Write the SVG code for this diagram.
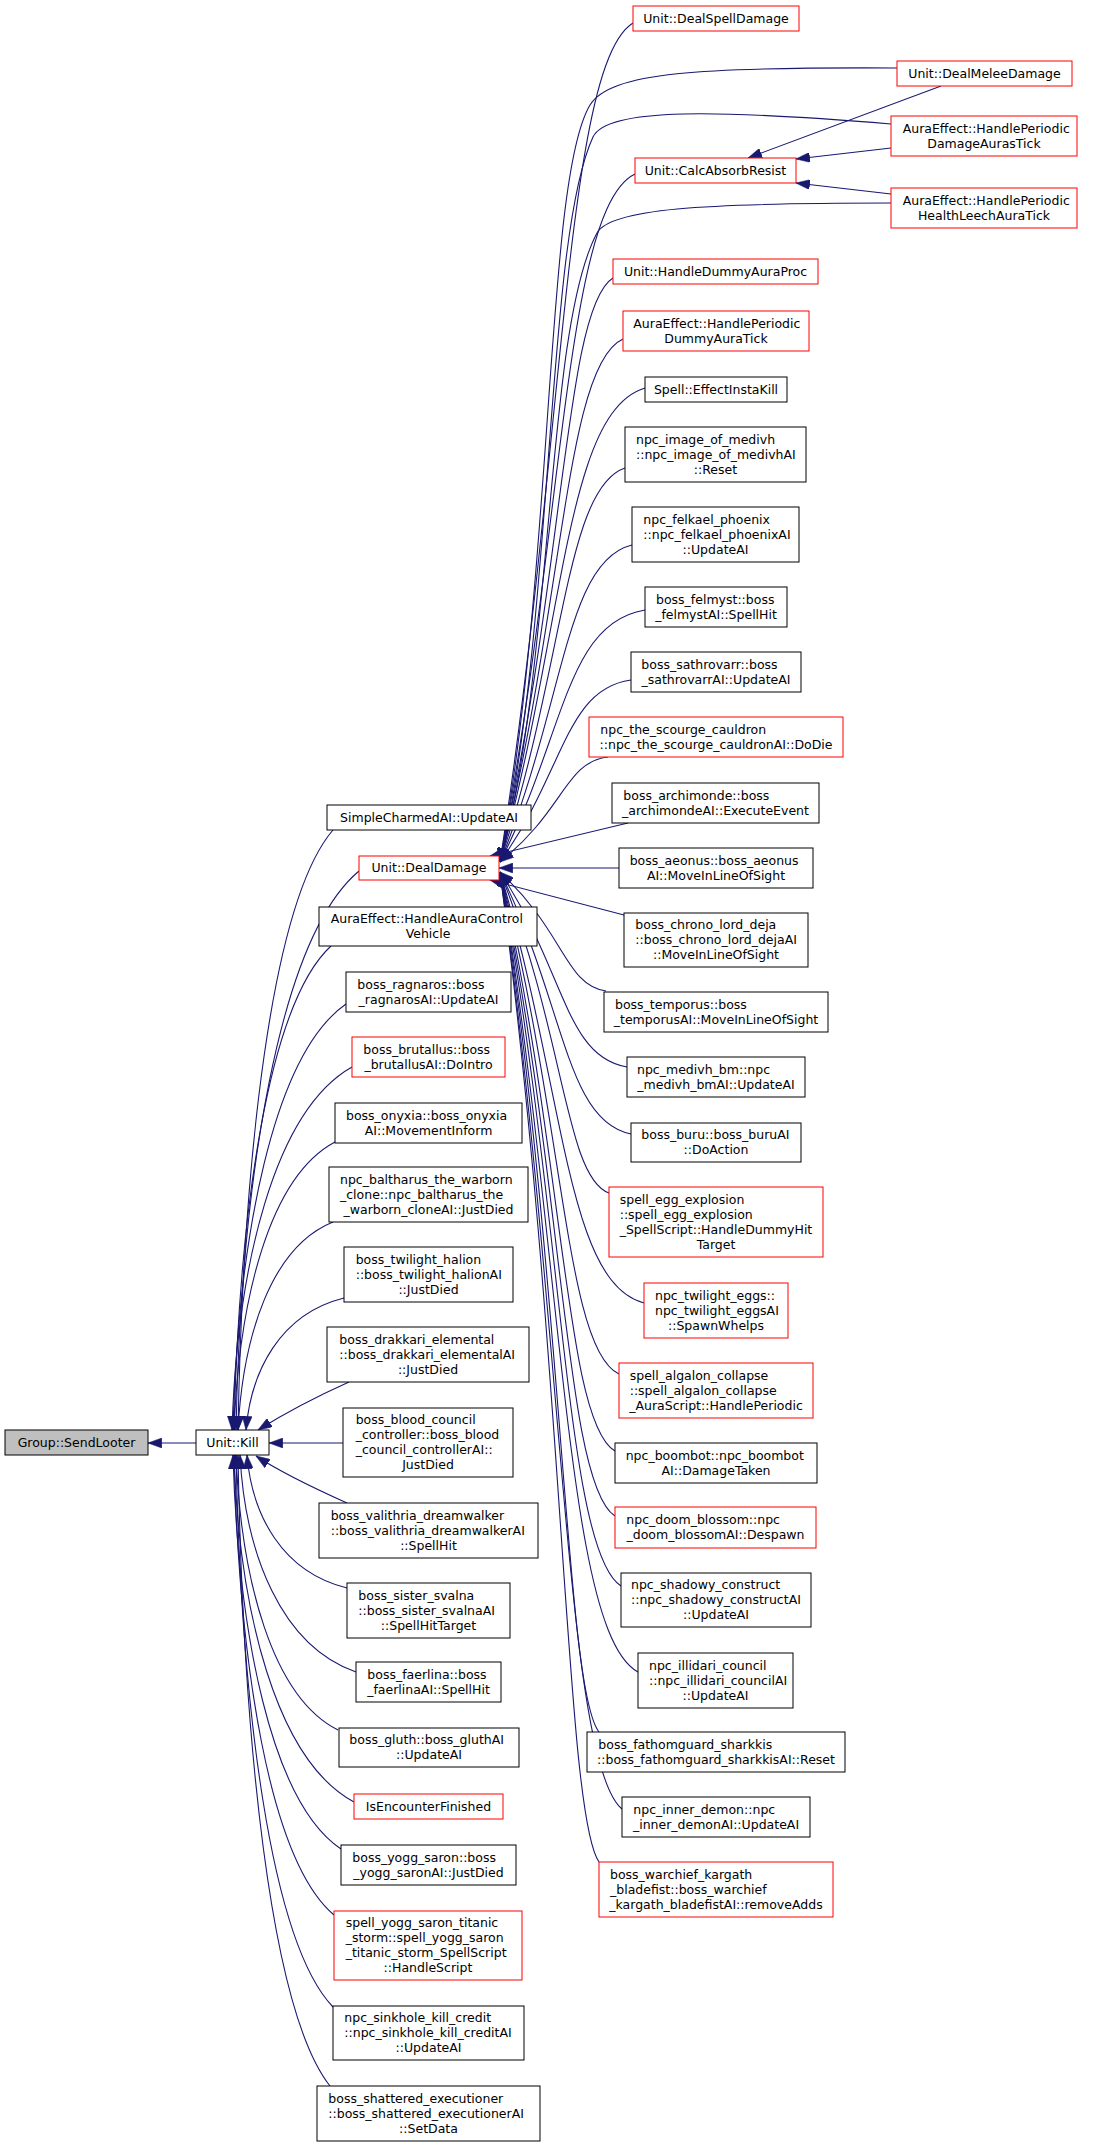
<svg xmlns="http://www.w3.org/2000/svg" width="1096" height="2147" viewBox="0 0 1096 2147">
<style>
text{font-family:"DejaVu Sans","Liberation Sans",sans-serif;font-size:12.5px;fill:#000}
.m{text-anchor:middle}
.n rect{fill:#fff;stroke:#000;stroke-width:1}
.r rect{fill:#fff;stroke:#f00;stroke-width:1}
.g rect{fill:#bfbfbf;stroke:#000;stroke-width:1}
#edges path{fill:none;stroke:#191970;stroke-width:1.1;marker-start:url(#a)}
</style>
<defs>
<marker id="a" markerUnits="userSpaceOnUse" markerWidth="14" markerHeight="10" viewBox="0 0 13 9.4" refX="0" refY="4.7" orient="auto"><path d="M0,4.7 L13,0 L13,9.4 z" fill="#191970" stroke="#191970" stroke-width="0.5"/></marker>
</defs>
<rect width="1096" height="2147" fill="#fff"/>
<g id="edges">
<path d="M148,1443 L196,1443"/>
<path d="M238,1430 C243,1160 271,902 333,830"/>
<path d="M236,1430 C241,1178 279,938 359,871"/>
<path d="M234,1430 C239,1212 268,1004 331,946"/>
<path d="M233,1430 C238,1238 273,1055 346,1004"/>
<path d="M232,1430 C237,1267 274,1111 352,1067"/>
<path d="M234,1430 C239,1300 269,1177 335,1142"/>
<path d="M238,1430 C243,1336 271,1247 333,1222"/>
<path d="M246,1430 C251,1371 280,1314 344,1298"/>
<path d="M258,1430 C290,1410 320,1395 349,1382"/>
<path d="M269,1443 L343,1443"/>
<path d="M256,1456 C285,1475 318,1490 347,1503"/>
<path d="M247,1455 C252,1515 282,1572 347,1588"/>
<path d="M240,1455 C245,1553 281,1646 356,1672"/>
<path d="M236,1455 C241,1579 272,1697 338,1730"/>
<path d="M234,1455 C239,1611 276,1760 354,1802"/>
<path d="M233,1455 C238,1632 271,1802 341,1849"/>
<path d="M234,1455 C239,1662 269,1860 334,1915"/>
<path d="M236,1455 C241,1703 270,1941 333,2007"/>
<path d="M238,1455 C243,1739 270,2010 330,2086"/>
<path d="M500,862 C565,442 565,65 633,23"/>
<path d="M500,862 C555,560 545,180 590,105 C610,72 700,67 897,68"/>
<path d="M500,862 C555,620 545,240 593,137 C607,107 720,110 891,124"/>
<path d="M500,862 C565,518 565,208 635,174"/>
<path d="M500,862 C555,660 545,330 597,233 C610,209 700,203 891,203"/>
<path d="M500,862 C565,570 565,307 613,278"/>
<path d="M500,862 C565,600 565,365 623,339"/>
<path d="M500,862 C565,625 565,412 645,388"/>
<path d="M500,862 C565,665 565,488 625,468"/>
<path d="M500,862 C565,703 565,561 632,545"/>
<path d="M500,862 C565,736 565,623 645,610"/>
<path d="M500,862 C565,771 565,689 631,680"/>
<path d="M500,862 C565,810 565,762 608,757"/>
<path d="M490,856 L628,823"/>
<path d="M499,868 L619,868"/>
<path d="M490,880 L624,915"/>
<path d="M500,872 C565,932 565,985 606,991"/>
<path d="M500,872 C565,970 565,1057 627,1067"/>
<path d="M500,872 C565,1003 565,1121 631,1134"/>
<path d="M500,872 C565,1033 565,1177 609,1193"/>
<path d="M500,872 C565,1088 565,1282 644,1303"/>
<path d="M500,872 C565,1123 565,1349 619,1374"/>
<path d="M500,872 C565,1162 565,1422 615,1451"/>
<path d="M500,872 C565,1194 565,1484 615,1516"/>
<path d="M500,872 C565,1229 565,1550 621,1586"/>
<path d="M500,872 C565,1272 565,1632 638,1672"/>
<path d="M500,872 C565,1302 565,1689 599,1732"/>
<path d="M500,872 C565,1341 565,1762 622,1809"/>
<path d="M500,872 C565,1367 565,1813 599,1862"/>
<path d="M748,158 L941,86"/>
<path d="M796,159 L891,148"/>
<path d="M796,183 L891,194"/>
</g>
<g id="n_sendlooter" class="g"><rect x="5" y="1430" width="143" height="25"/><text class="m" x="76.5" y="1446.5">Group::SendLooter</text></g>
<g id="n_kill" class="n"><rect x="196" y="1430" width="73" height="25"/><text class="m" x="232.5" y="1446.5">Unit::Kill</text></g>

<g id="n_simplecharmed" class="n"><rect x="327" y="805" width="204" height="25"/><text class="m" x="429" y="821.5">SimpleCharmedAI::UpdateAI</text></g>
<g id="n_dealdamage" class="r"><rect x="359" y="856" width="140" height="24"/><text class="m" x="429" y="872">Unit::DealDamage</text></g>
<g id="n_auracontrol" class="n"><rect x="319" y="907" width="218" height="39"/><text x="330.7" y="923">AuraEffect::HandleAuraControl</text><text class="m" x="428" y="938">Vehicle</text></g>
<g id="n_ragnaros" class="n"><rect x="346" y="972" width="165" height="40"/><text x="357.3" y="988.5">boss_ragnaros::boss</text><text class="m" x="428.5" y="1003.5">_ragnarosAI::UpdateAI</text></g>
<g id="n_brutallus" class="r"><rect x="352" y="1037" width="153" height="40"/><text x="363.3" y="1053.5">boss_brutallus::boss</text><text class="m" x="428.5" y="1068.5">_brutallusAI::DoIntro</text></g>
<g id="n_onyxia" class="n"><rect x="335" y="1103" width="187" height="40"/><text x="346" y="1119.5">boss_onyxia::boss_onyxia</text><text class="m" x="428.5" y="1134.5">AI::MovementInform</text></g>
<g id="n_baltharus" class="n"><rect x="329" y="1167" width="199" height="55"/><text x="340" y="1183.5">npc_baltharus_the_warborn</text><text x="340" y="1198.5">_clone::npc_baltharus_the</text><text class="m" x="428.5" y="1213.5">_warborn_cloneAI::JustDied</text></g>
<g id="n_halion" class="n"><rect x="344" y="1247" width="169" height="55"/><text x="355.7" y="1263.5">boss_twilight_halion</text><text x="355.7" y="1278.5">::boss_twilight_halionAI</text><text class="m" x="428.5" y="1293.5">::JustDied</text></g>
<g id="n_drakkari" class="n"><rect x="327" y="1327" width="202" height="55"/><text x="339.3" y="1343.5">boss_drakkari_elemental</text><text x="339.3" y="1358.5">::boss_drakkari_elementalAI</text><text class="m" x="428" y="1373.5">::JustDied</text></g>
<g id="n_bloodcouncil" class="n"><rect x="343" y="1408" width="170" height="69"/><text x="355.7" y="1424">boss_blood_council</text><text x="355.7" y="1439">_controller::boss_blood</text><text x="355.7" y="1454">_council_controllerAI::</text><text class="m" x="428" y="1469">JustDied</text></g>
<g id="n_valithria" class="n"><rect x="319" y="1503" width="219" height="55"/><text x="330.7" y="1519.5">boss_valithria_dreamwalker</text><text x="330.7" y="1534.5">::boss_valithria_dreamwalkerAI</text><text class="m" x="428.5" y="1549.5">::SpellHit</text></g>
<g id="n_svalna" class="n"><rect x="347" y="1583" width="163" height="55"/><text x="358.3" y="1599.5">boss_sister_svalna</text><text x="358.3" y="1614.5">::boss_sister_svalnaAI</text><text class="m" x="428.5" y="1629.5">::SpellHitTarget</text></g>
<g id="n_faerlina" class="n"><rect x="356" y="1662" width="145" height="40"/><text x="367.3" y="1678.5">boss_faerlina::boss</text><text class="m" x="428.5" y="1693.5">_faerlinaAI::SpellHit</text></g>
<g id="n_gluth" class="n"><rect x="339" y="1728" width="180" height="39"/><text x="349.3" y="1744">boss_gluth::boss_gluthAI</text><text class="m" x="429" y="1759">::UpdateAI</text></g>
<g id="n_isencounter" class="r"><rect x="354" y="1794" width="149" height="25"/><text class="m" x="428.5" y="1810.5">IsEncounterFinished</text></g>
<g id="n_yogg" class="n"><rect x="341" y="1845" width="175" height="40"/><text x="352.3" y="1861.5">boss_yogg_saron::boss</text><text class="m" x="428.5" y="1876.5">_yogg_saronAI::JustDied</text></g>
<g id="n_titanicstorm" class="r"><rect x="334" y="1911" width="188" height="69"/><text x="345.7" y="1927">spell_yogg_saron_titanic</text><text x="345.7" y="1942">_storm::spell_yogg_saron</text><text x="345.7" y="1957">_titanic_storm_SpellScript</text><text class="m" x="428" y="1972">::HandleScript</text></g>
<g id="n_sinkhole" class="n"><rect x="333" y="2006" width="191" height="54"/><text x="344.3" y="2022">npc_sinkhole_kill_credit</text><text x="344.3" y="2037">::npc_sinkhole_kill_creditAI</text><text class="m" x="428.5" y="2052">::UpdateAI</text></g>
<g id="n_shattered" class="n"><rect x="317" y="2086" width="223" height="55"/><text x="328.3" y="2102.5">boss_shattered_executioner</text><text x="328.3" y="2117.5">::boss_shattered_executionerAI</text><text class="m" x="428.5" y="2132.5">::SetData</text></g>

<g id="n_dealspell" class="r"><rect x="633" y="6" width="166" height="25"/><text class="m" x="716" y="22.5">Unit::DealSpellDamage</text></g>
<g id="n_dealmelee" class="r"><rect x="897" y="61" width="175" height="25"/><text class="m" x="984.5" y="77.5">Unit::DealMeleeDamage</text></g>
<g id="n_damageauras" class="r"><rect x="891" y="116" width="186" height="40"/><text x="902.7" y="132.5">AuraEffect::HandlePeriodic</text><text class="m" x="984" y="147.5">DamageAurasTick</text></g>
<g id="n_calcabsorb" class="r"><rect x="635" y="158" width="161" height="25"/><text class="m" x="715.5" y="174.5">Unit::CalcAbsorbResist</text></g>
<g id="n_healthleech" class="r"><rect x="891" y="188" width="186" height="40"/><text x="902.7" y="204.5">AuraEffect::HandlePeriodic</text><text class="m" x="984" y="219.5">HealthLeechAuraTick</text></g>
<g id="n_dummyproc" class="r"><rect x="613" y="259" width="205" height="25"/><text class="m" x="715.5" y="275.5">Unit::HandleDummyAuraProc</text></g>
<g id="n_dummytick" class="r"><rect x="623" y="311" width="186" height="40"/><text x="633.3" y="327.5">AuraEffect::HandlePeriodic</text><text class="m" x="716" y="342.5">DummyAuraTick</text></g>
<g id="n_instakill" class="n"><rect x="645" y="377" width="142" height="25"/><text class="m" x="716" y="393.5">Spell::EffectInstaKill</text></g>
<g id="n_imagemedivh" class="n"><rect x="625" y="427" width="181" height="55"/><text x="636" y="443.5">npc_image_of_medivh</text><text x="636" y="458.5">::npc_image_of_medivhAI</text><text class="m" x="715.5" y="473.5">::Reset</text></g>
<g id="n_felkael" class="n"><rect x="632" y="507" width="167" height="55"/><text x="643.3" y="523.5">npc_felkael_phoenix</text><text x="643.3" y="538.5">::npc_felkael_phoenixAI</text><text class="m" x="715.5" y="553.5">::UpdateAI</text></g>
<g id="n_felmyst" class="n"><rect x="645" y="587" width="142" height="40"/><text x="656" y="603.5">boss_felmyst::boss</text><text class="m" x="716" y="618.5">_felmystAI::SpellHit</text></g>
<g id="n_sathrovarr" class="n"><rect x="631" y="652" width="170" height="40"/><text x="641.3" y="668.5">boss_sathrovarr::boss</text><text class="m" x="716" y="683.5">_sathrovarrAI::UpdateAI</text></g>
<g id="n_cauldron" class="r"><rect x="589" y="717" width="254" height="40"/><text x="600.3" y="733.5">npc_the_scourge_cauldron</text><text class="m" x="716" y="748.5">::npc_the_scourge_cauldronAI::DoDie</text></g>
<g id="n_archimonde" class="n"><rect x="612" y="783" width="207" height="40"/><text x="623.3" y="799.5">boss_archimonde::boss</text><text class="m" x="715.5" y="814.5">_archimondeAI::ExecuteEvent</text></g>
<g id="n_aeonus" class="n"><rect x="619" y="848" width="194" height="40"/><text x="629.7" y="864.5">boss_aeonus::boss_aeonus</text><text class="m" x="716" y="879.5">AI::MoveInLineOfSight</text></g>
<g id="n_chrono" class="n"><rect x="624" y="913" width="184" height="54"/><text x="635.3" y="929">boss_chrono_lord_deja</text><text x="635.3" y="944">::boss_chrono_lord_dejaAI</text><text class="m" x="716" y="959">::MoveInLineOfSight</text></g>
<g id="n_temporus" class="n"><rect x="604" y="992" width="224" height="40"/><text x="615" y="1008.5">boss_temporus::boss</text><text class="m" x="716" y="1023.5">_temporusAI::MoveInLineOfSight</text></g>
<g id="n_medivhbm" class="n"><rect x="627" y="1057" width="178" height="40"/><text x="637" y="1073.5">npc_medivh_bm::npc</text><text class="m" x="716" y="1088.5">_medivh_bmAI::UpdateAI</text></g>
<g id="n_buru" class="n"><rect x="631" y="1123" width="170" height="39"/><text x="641.3" y="1139">boss_buru::boss_buruAI</text><text class="m" x="716" y="1154">::DoAction</text></g>
<g id="n_eggexplosion" class="r"><rect x="609" y="1187" width="214" height="70"/><text x="619.7" y="1203.5">spell_egg_explosion</text><text x="619.7" y="1218.5">::spell_egg_explosion</text><text x="619.7" y="1233.5">_SpellScript::HandleDummyHit</text><text class="m" x="716" y="1248.5">Target</text></g>
<g id="n_twilighteggs" class="r"><rect x="644" y="1283" width="144" height="55"/><text x="655" y="1299.5">npc_twilight_eggs::</text><text x="655" y="1314.5">npc_twilight_eggsAI</text><text class="m" x="716" y="1329.5">::SpawnWhelps</text></g>
<g id="n_algalon" class="r"><rect x="619" y="1363" width="194" height="55"/><text x="629.7" y="1379.5">spell_algalon_collapse</text><text x="629.7" y="1394.5">::spell_algalon_collapse</text><text class="m" x="716" y="1409.5">_AuraScript::HandlePeriodic</text></g>
<g id="n_boombot" class="n"><rect x="615" y="1443" width="202" height="40"/><text x="625.7" y="1459.5">npc_boombot::npc_boombot</text><text class="m" x="716" y="1474.5">AI::DamageTaken</text></g>
<g id="n_doomblossom" class="r"><rect x="615" y="1507" width="201" height="41"/><text x="626.3" y="1524">npc_doom_blossom::npc</text><text class="m" x="715.5" y="1539">_doom_blossomAI::Despawn</text></g>
<g id="n_shadowy" class="n"><rect x="621" y="1573" width="190" height="54"/><text x="631" y="1589">npc_shadowy_construct</text><text x="631" y="1604">::npc_shadowy_constructAI</text><text class="m" x="716" y="1619">::UpdateAI</text></g>
<g id="n_illidari" class="n"><rect x="638" y="1653" width="155" height="55"/><text x="649" y="1669.5">npc_illidari_council</text><text x="649" y="1684.5">::npc_illidari_councilAI</text><text class="m" x="715.5" y="1699.5">::UpdateAI</text></g>
<g id="n_sharkkis" class="n"><rect x="587" y="1732" width="258" height="40"/><text x="598.3" y="1748.5">boss_fathomguard_sharkkis</text><text class="m" x="716" y="1763.5">::boss_fathomguard_sharkkisAI::Reset</text></g>
<g id="n_innerdemon" class="n"><rect x="622" y="1797" width="188" height="40"/><text x="633.3" y="1813.5">npc_inner_demon::npc</text><text class="m" x="716" y="1828.5">_inner_demonAI::UpdateAI</text></g>
<g id="n_kargath" class="r"><rect x="599" y="1862" width="234" height="55"/><text x="610" y="1878.5">boss_warchief_kargath</text><text x="610" y="1893.5">_bladefist::boss_warchief</text><text class="m" x="716" y="1908.5">_kargath_bladefistAI::removeAdds</text></g>
</svg>
